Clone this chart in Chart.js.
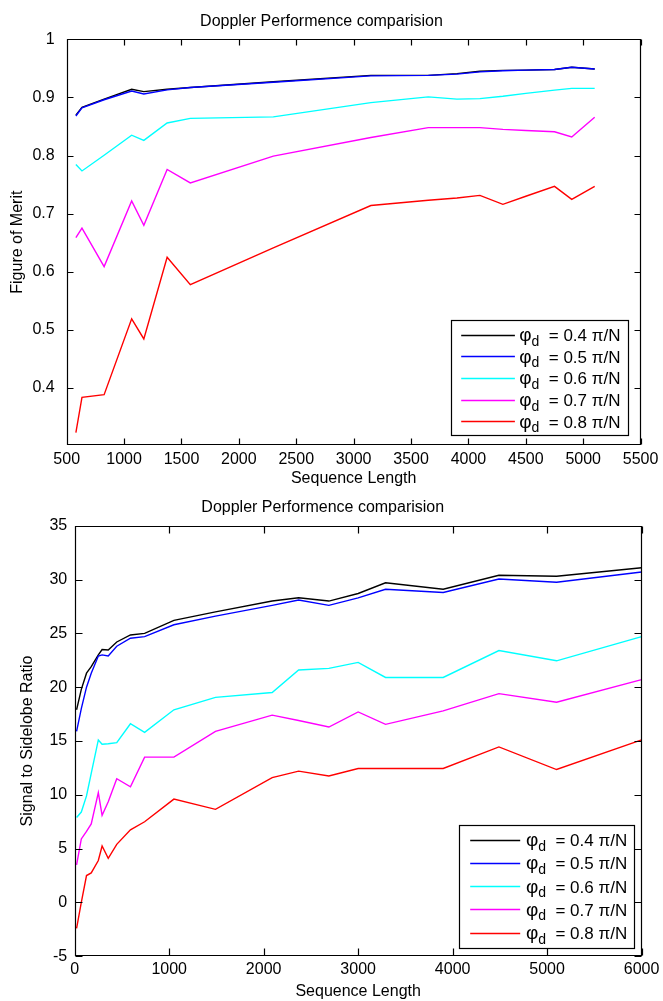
<!DOCTYPE html>
<html><head><meta charset="utf-8">
<script src="https://cdn.jsdelivr.net/npm/chart.js@4.4.1/dist/chart.umd.min.js"></script>
<style>
html,body{margin:0;padding:0;background:#fff;width:663px;height:1001px;overflow:hidden}
canvas{position:absolute;left:0}
#c1{top:0}
#c2{top:495px}
</style></head><body>
<canvas id="c1" width="663" height="495"></canvas>
<canvas id="c2" width="663" height="506"></canvas>
<script>
// ---------- data ----------
const phiLabels = ['0.4', '0.5', '0.6', '0.7', '0.8'];
const lineColors = ['#000000', '#0000ff', '#00ffff', '#ff00ff', '#ff0000'];

// Top chart: Figure of Merit vs Sequence Length
const topLengths = [580, 633, 826, 1066, 1172, 1375, 1577, 2300, 3150, 3650, 3900, 4100, 4300, 4500, 4750, 4900, 5100];
const fom04 = [0.8695, 0.883, 0.897, 0.914, 0.910, 0.914, 0.917, 0.927, 0.938, 0.938, 0.941, 0.945, 0.9465, 0.947, 0.948, 0.952, 0.949];
const fom05 = [0.868, 0.882, 0.896, 0.911, 0.906, 0.913, 0.917, 0.926, 0.937, 0.938, 0.940, 0.944, 0.946, 0.947, 0.948, 0.952, 0.949];
const fom06 = [0.7845, 0.7735, 0.8005, 0.835, 0.826, 0.856, 0.864, 0.8666, 0.891, 0.901, 0.897, 0.898, 0.902, 0.907, 0.9126, 0.9155, 0.9155];
const fom07 = [0.6586, 0.675, 0.609, 0.722, 0.680, 0.776, 0.753, 0.799, 0.831, 0.848, 0.848, 0.848, 0.845, 0.843, 0.841, 0.832, 0.866];
const fom08 = [0.3234, 0.384, 0.3885, 0.519, 0.4845, 0.625, 0.578, 0.641, 0.714, 0.723, 0.727, 0.7315, 0.716, 0.730, 0.747, 0.7247, 0.747];
const topXTicks = [500, 1000, 1500, 2000, 2500, 3000, 3500, 4000, 4500, 5000, 5500];
const topYTicks = [0.4, 0.5, 0.6, 0.7, 0.8, 0.9, 1];

// Bottom chart: Signal to Sidelobe Ratio vs Sequence Length
const bottomLengths = [20, 70, 125, 175, 250, 290, 355, 445, 590, 740, 1050, 1490, 2090, 2370, 2690, 3000, 3290, 3900, 4490, 5100, 6000];
const ssr04 = [17.9, 19.8, 21.3, 21.9, 23.0, 23.5, 23.45, 24.2, 24.85, 25.0, 26.2, 27.0, 28.0, 28.3, 28.0, 28.7, 29.7, 29.1, 30.4, 30.3, 31.1];
const ssr05 = [15.9, 18.0, 20.0, 21.3, 22.9, 23.0, 22.9, 23.8, 24.55, 24.7, 25.8, 26.6, 27.6, 28.1, 27.6, 28.3, 29.1, 28.8, 30.05, 29.75, 30.7];
const ssr06 = [7.9, 8.4, 9.9, 12.0, 15.1, 14.7, 14.75, 14.85, 16.6, 15.8, 17.9, 19.05, 19.5, 21.6, 21.75, 22.3, 20.9, 20.9, 23.4, 22.45, 24.7];
const ssr07 = [3.5, 5.9, 6.6, 7.3, 10.2, 8.1, 9.35, 11.5, 10.75, 13.5, 13.5, 15.9, 17.4, 16.9, 16.3, 17.7, 16.55, 17.8, 19.4, 18.6, 20.7];
const ssr08 = [-2.4, 0.0, 2.5, 2.75, 3.9, 5.25, 4.1, 5.4, 6.75, 7.5, 9.6, 8.65, 11.6, 12.2, 11.75, 12.45, 12.45, 12.45, 14.45, 12.35, 15.1];
const bottomXTicks = [0, 1000, 2000, 3000, 4000, 5000, 6000];
const bottomYTicks = [-5, 0, 5, 10, 15, 20, 25, 30, 35];

const chartTitle = 'Doppler Performence comparision';
const xTitle = 'Sequence Length';
const topYTitle = 'Figure of Merit';
const bottomYTitle = 'Signal to Sidelobe Ratio';

// ---------- helpers ----------
const FAM = '"Liberation Sans", Arial, Helvetica, sans-serif';
const axisFont = {family: FAM, size: 16, weight: 'normal'};

function lineDatasets(xs, seriesList) {
  return seriesList.map((ys, i) => ({
    label: '\u03C6d = ' + phiLabels[i] + ' \u03C0/N',
    data: xs.map((x, k) => ({x: x, y: ys[k]})),
    borderColor: lineColors[i],
    backgroundColor: lineColors[i],
    borderWidth: 1.4,
    pointRadius: 0,
    tension: 0,
    fill: false,
    order: seriesList.length - i
  }));
}

const inwardTicks = {
  id: 'inwardTicks',
  afterDatasetsDraw(chart, args, o) {
    const {ctx, chartArea: a} = chart;
    const xs = chart.scales.x, ys = chart.scales.y;
    const L = o.length;
    const l = Math.round(a.left) + 0.5, r = Math.round(a.right) - 0.5;
    const t = Math.round(a.top) + 0.5, b = Math.round(a.bottom) - 0.5;
    ctx.save();
    ctx.strokeStyle = '#000';
    ctx.lineWidth = 1.2;
    ctx.beginPath();
    xs.ticks.forEach(tk => {
      const p = Math.round(xs.getPixelForValue(tk.value)) + 0.5;
      ctx.moveTo(p, b); ctx.lineTo(p, b - L);
      ctx.moveTo(p, t); ctx.lineTo(p, t + L);
    });
    ys.ticks.forEach(tk => {
      const p = Math.round(ys.getPixelForValue(tk.value)) + 0.5;
      ctx.moveTo(l, p); ctx.lineTo(l + L, p);
      ctx.moveTo(r, p); ctx.lineTo(r - L, p);
    });
    ctx.rect(l, t, r - l, b - t);
    ctx.stroke();
    ctx.restore();
  }
};

const phiLegend = {
  id: 'phiLegend',
  afterDraw(chart, args, o) {
    const {ctx, chartArea: a} = chart;
    const sets = chart.data.datasets;
    const right = Math.round(a.right - o.right) + 0.5;
    const bottom = Math.round(a.bottom - o.bottom) + 0.5;
    const top = Math.round(bottom - o.padTop - o.padBottom - (sets.length - 1) * o.row) + 0.5;
    const left = Math.round(right - o.width) + 0.5;
    ctx.save();
    ctx.fillStyle = '#fff';
    ctx.fillRect(left, top, right - left, bottom - top);
    ctx.strokeStyle = '#000';
    ctx.lineWidth = 1.2;
    ctx.strokeRect(left, top, right - left, bottom - top);
    const big = o.fontSize + 'px ' + FAM;
    const phiFont = (o.fontSize + 2) + 'px ' + FAM;
    const small = Math.round(o.fontSize * 0.8) + 'px ' + FAM;
    sets.forEach((ds, i) => {
      const cy = top + o.padTop + i * o.row;
      const ly = Math.round(cy) - 0.5;
      ctx.strokeStyle = ds.borderColor;
      ctx.lineWidth = 1.5;
      ctx.beginPath();
      ctx.moveTo(left + o.lineStart, ly);
      ctx.lineTo(left + o.lineEnd, ly);
      ctx.stroke();
      const parts = [['\u03C6', phiFont, 0], ['d', small, 4.5], ['  = ' + phiLabels[i] + ' ', big, 0], ['\u03C0/N', big, 0]];
      let w = 0;
      parts.forEach(p => { ctx.font = p[1]; w += ctx.measureText(p[0]).width; });
      let x = right - o.textRight - w;
      ctx.fillStyle = '#000';
      ctx.textBaseline = 'alphabetic';
      ctx.textAlign = 'left';
      parts.forEach(p => {
        ctx.font = p[1];
        ctx.fillText(p[0], x, cy + 5.5 + p[2]);
        x += ctx.measureText(p[0]).width;
      });
    });
    ctx.restore();
  }
};

function buildChart(id, cfg) {
  return new Chart(document.getElementById(id), {
    type: 'line',
    data: {datasets: lineDatasets(cfg.xs, cfg.series)},
    options: {
      responsive: false,
      maintainAspectRatio: false,
      animation: false,
      events: [],
      layout: {padding: {left: 0, right: cfg.padRight, top: 0, bottom: 0}},
      plugins: {
        legend: {display: false},
        tooltip: {enabled: false},
        title: {
          display: true, text: chartTitle, color: '#000',
          font: {family: FAM, size: 16, weight: 'normal'},
          padding: {top: cfg.titleTop, bottom: cfg.titleBottom}
        },
        inwardTicks: {length: cfg.tickLen},
        phiLegend: cfg.legend
      },
      scales: {
        x: {
          type: 'linear', min: cfg.xTicks[0], max: cfg.xTicks[cfg.xTicks.length - 1],
          afterBuildTicks: s => { s.ticks = cfg.xTicks.map(v => ({value: v})); },
          afterFit: s => { s.height = cfg.xHeight; },
          grid: {display: false, drawTicks: false, tickLength: 0}, border: {display: false},
          ticks: {font: axisFont, color: '#000', padding: cfg.xTickPad, maxRotation: 0, autoSkip: false,
                  callback: v => String(v)},
          title: {display: true, text: xTitle, color: '#000', font: axisFont, padding: {top: 0, bottom: cfg.xTitlePad}}
        },
        y: {
          type: 'linear', min: cfg.yMin, max: cfg.yMax,
          afterBuildTicks: s => { s.ticks = cfg.yTicks.map(v => ({value: v})); },
          afterFit: s => { s.width = cfg.yWidth; },
          grid: {display: false, drawTicks: false, tickLength: 0}, border: {display: false},
          ticks: {font: axisFont, color: '#000', padding: cfg.yTickPad, callback: v => String(v)},
          title: {display: true, text: cfg.yTitle, color: '#000', font: axisFont, padding: {top: cfg.yTitlePad, bottom: 0}}
        }
      }
    },
    plugins: [inwardTicks, phiLegend]
  });
}

buildChart('c1', {
  xs: topLengths, series: [fom04, fom05, fom06, fom07, fom08],
  xTicks: topXTicks, yTicks: topYTicks, yMin: 0.302, yMax: 1,
  yTitle: topYTitle,
  padRight: 20, titleTop: 11.7, titleBottom: 8.4,
  xHeight: 50, xTickPad: 4.6, xTitlePad: 6.6,
  yWidth: 66.7, yTickPad: 12, yTitlePad: 8.4, tickLen: 6,
  legend: {right: 12.3, bottom: 10, width: 177.3, row: 21.7, padTop: 15, padBottom: 13.3,
           lineStart: 9.7, lineEnd: 63.4, textRight: 8, fontSize: 17}
});

buildChart('c2', {
  xs: bottomLengths, series: [ssr04, ssr05, ssr06, ssr07, ssr08],
  xTicks: bottomXTicks, yTicks: bottomYTicks, yMin: -5, yMax: 35,
  yTitle: bottomYTitle,
  padRight: 17.5, titleTop: 2.6, titleBottom: 8.9,
  xHeight: 44.7, xTickPad: 3.6, xTitlePad: 0,
  yWidth: 74.7, yTickPad: 7.5, yTitlePad: 18.4, tickLen: 7,
  legend: {right: 7.2, bottom: 8, width: 176, row: 23.3, padTop: 15, padBottom: 15,
           lineStart: 10.7, lineEnd: 60.7, textRight: 7.3, fontSize: 17}
});
</script>
</body></html>
